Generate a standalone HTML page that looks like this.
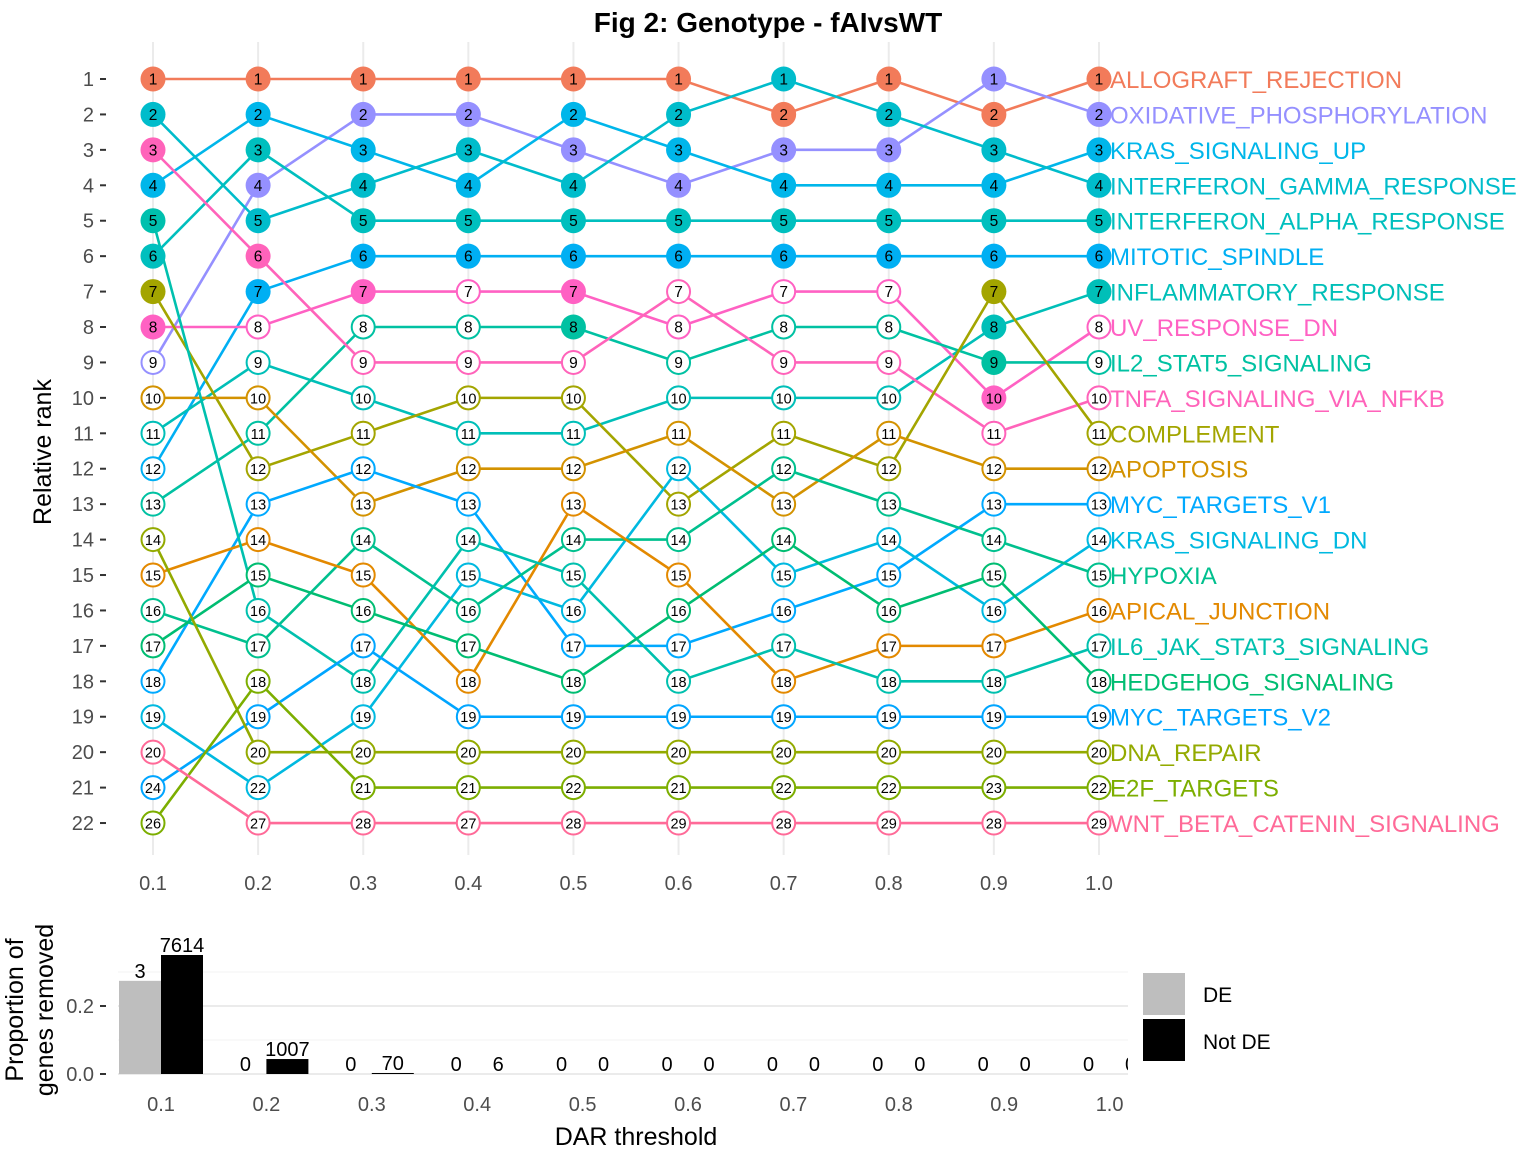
<!DOCTYPE html>
<html><head><meta charset="utf-8">
<style>
body{margin:0;background:#fff;}
svg{display:block;font-family:"Liberation Sans",Arial,sans-serif;}
</style></head>
<body>
<svg id="chart" width="1536" height="1152" viewBox="0 0 1536 1152" xmlns="http://www.w3.org/2000/svg">
<rect width="1536" height="1152" fill="#fff"/>
<text x="768" y="32" text-anchor="middle" font-size="28" font-weight="bold">Fig 2: Genotype - fAIvsWT</text>
<g id="top-grid"></g>
<g id="top-axes"></g>
<text transform="translate(51,452) rotate(-90)" text-anchor="middle" font-size="25" fill="#000">Relative rank</text>
<g id="lines"></g>
<g id="points"></g>
<g id="setlabels"></g>
<defs><clipPath id="bclip"><rect x="118" y="920" width="1010" height="160"/></clipPath></defs>
<g id="bottom-grid"></g>
<g id="bars" clip-path="url(#bclip)"></g>
<g id="bottom-axes"></g>
<text transform="translate(23,1010) rotate(-90)" text-anchor="middle" font-size="25">Proportion of</text>
<text transform="translate(53,1010) rotate(-90)" text-anchor="middle" font-size="25">genes removed</text>
<text x="636" y="1145" text-anchor="middle" font-size="25">DAR threshold</text>
<g>
<rect x="1143" y="973" width="42" height="42" fill="#bebebe"/>
<text x="1203" y="1002" font-size="21">DE</text>
<rect x="1143" y="1019" width="42" height="42" fill="#000"/>
<text x="1203" y="1049" font-size="21">Not DE</text>
</g>
</svg>
<script>
const thresholds = ["0.1","0.2","0.3","0.4","0.5","0.6","0.7","0.8","0.9","1.0"];
const setNames = ["ALLOGRAFT_REJECTION","OXIDATIVE_PHOSPHORYLATION","KRAS_SIGNALING_UP","INTERFERON_GAMMA_RESPONSE","INTERFERON_ALPHA_RESPONSE","MITOTIC_SPINDLE","INFLAMMATORY_RESPONSE","UV_RESPONSE_DN","IL2_STAT5_SIGNALING","TNFA_SIGNALING_VIA_NFKB","COMPLEMENT","APOPTOSIS","MYC_TARGETS_V1","KRAS_SIGNALING_DN","HYPOXIA","APICAL_JUNCTION","IL6_JAK_STAT3_SIGNALING","HEDGEHOG_SIGNALING","MYC_TARGETS_V2","DNA_REPAIR","E2F_TARGETS","WNT_BETA_CATENIN_SIGNALING"];
const setColors = ["#F27B5A","#9590FF","#00B6EA","#00BCCB","#00BFBE","#00AFF3","#00BFB8","#FF61C3","#00C1A2","#FF63BA","#A3A500","#D39200","#00A9FF","#00B9E0","#00C08E","#E38900","#00C0AE","#00BD72","#00A5FF","#93AA00","#7CAE00","#FF6A98"];
const rankPositions = [
 [1,1,1,1,1,1,2,1,2,1],
 [9,4,2,2,3,4,3,3,1,2],
 [4,2,3,4,2,3,4,4,4,3],
 [2,5,4,3,4,2,1,2,3,4],
 [6,3,5,5,5,5,5,5,5,5],
 [12,7,6,6,6,6,6,6,6,6],
 [11,9,10,11,11,10,10,10,8,7],
 [8,8,7,7,7,8,7,7,10,8],
 [13,11,8,8,8,9,8,8,9,9],
 [3,6,9,9,9,7,9,9,11,10],
 [7,12,11,10,10,13,11,12,7,11],
 [10,10,13,12,12,11,13,11,12,12],
 [18,13,12,13,17,17,16,15,13,13],
 [19,21,19,15,16,12,15,14,16,14],
 [16,17,14,16,14,14,12,13,14,15],
 [15,14,15,18,13,15,18,17,17,16],
 [5,16,18,14,15,18,17,18,18,17],
 [17,15,16,17,18,16,14,16,15,18],
 [21,19,17,19,19,19,19,19,19,19],
 [14,20,20,20,20,20,20,20,20,20],
 [22,18,21,21,21,21,21,21,21,21],
 [20,22,22,22,22,22,22,22,22,22]
];
const rankLabels = [
 [1,1,1,1,1,1,2,1,2,1],
 [9,4,2,2,3,4,3,3,1,2],
 [4,2,3,4,2,3,4,4,4,3],
 [2,5,4,3,4,2,1,2,3,4],
 [6,3,5,5,5,5,5,5,5,5],
 [12,7,6,6,6,6,6,6,6,6],
 [11,9,10,11,11,10,10,10,8,7],
 [8,8,7,7,7,8,7,7,10,8],
 [13,11,8,8,8,9,8,8,9,9],
 [3,6,9,9,9,7,9,9,11,10],
 [7,12,11,10,10,13,11,12,7,11],
 [10,10,13,12,12,11,13,11,12,12],
 [18,13,12,13,17,17,16,15,13,13],
 [19,22,19,15,16,12,15,14,16,14],
 [16,17,14,16,14,14,12,13,14,15],
 [15,14,15,18,13,15,18,17,17,16],
 [5,16,18,14,15,18,17,18,18,17],
 [17,15,16,17,18,16,14,16,15,18],
 [24,19,17,19,19,19,19,19,19,19],
 [14,20,20,20,20,20,20,20,20,20],
 [26,18,21,21,22,21,22,22,23,22],
 [20,27,28,27,28,29,28,29,28,29]
];
const sigCounts = [8,7,7,6,8,6,6,6,10,7];
const rankTicks = [1,2,3,4,5,6,7,8,9,10,11,12,13,14,15,16,17,18,19,20,21,22];
const deProportion = [0.274,0,0,0,0,0,0,0,0,0];
const notDeProportion = [0.35,0.044,0.003,0,0,0,0,0,0,0];
const deCounts = [3,0,0,0,0,0,0,0,0,0];
const notDeCounts = [7614,1007,70,6,0,0,0,0,0,0];
const barTicks = [0,0.2];

const NS="http://www.w3.org/2000/svg";
function mk(tag,attrs,parent,txt){const e=document.createElementNS(NS,tag);for(const k in attrs)e.setAttribute(k,attrs[k]);if(txt!==undefined)e.textContent=txt;parent.appendChild(e);return e;}
const xr=i=>153+i*105.11;
const yr=p=>79+(p-1)*35.43;
const xb=i=>161+i*105.4;
const yb=v=>1074-v*340;

const g1=document.getElementById('top-grid'),ax1=document.getElementById('top-axes');
thresholds.forEach((t,i)=>{
 const l=mk('line',{x1:xr(i),x2:xr(i),y1:42,y2:855,stroke:'#ebebeb','stroke-width':2},g1);
 
 
 const tx=mk('text',{x:xr(i),y:890,'text-anchor':'middle','font-size':20,fill:'#4d4d4d'},ax1,t);
 
 
});
rankTicks.forEach(r=>{
 const tx=mk('text',{x:94,y:yr(r)+7,'text-anchor':'end','font-size':20,fill:'#4d4d4d'},ax1,r);
 
 
 const tk=mk('line',{x1:100,x2:106,y1:yr(r),y2:yr(r),stroke:'#333','stroke-width':2},ax1);
 
 
});

const gl=document.getElementById('lines'),gp=document.getElementById('points'),gs=document.getElementById('setlabels');
rankPositions.forEach((ps,s)=>{
 const d=ps.map((p,i)=>(i?'L':'M')+xr(i)+','+yr(p)).join(' ');
 const pl=mk('path',{d:d,fill:'none',stroke:setColors[s],'stroke-width':2.6},gl);
 
 
});
rankPositions.forEach((ps,s)=>{
 ps.forEach((p,i)=>{
  const filled=p<=sigCounts[i];
  const c=mk('circle',{cx:xr(i),cy:yr(p),r:filled?12.5:11.5,fill:filled?setColors[s]:'#fff',stroke:setColors[s],'stroke-width':filled?0:2},gp);
  
  
  const lab=rankLabels[s][i];
  const t=mk('text',{x:xr(i),y:yr(p)+5.5,'text-anchor':'middle','font-size':lab>9?14.5:15.5,fill:'#000'},gp,lab);
  
  
 });
 const last=ps[ps.length-1];
 const nt=mk('text',{x:1110,y:yr(last)+9,'font-size':24,fill:setColors[s]},gs,setNames[s]);
 
 
});

const g2=document.getElementById('bottom-grid'),ax2=document.getElementById('bottom-axes'),gb=document.getElementById('bars');
[0.1,0.3].forEach(v=>{
 const l=mk('line',{x1:118,x2:1128,y1:yb(v),y2:yb(v),stroke:'#f3f3f3','stroke-width':1},g2);
 
 
});
barTicks.forEach(v=>{
 const l=mk('line',{x1:118,x2:1128,y1:yb(v),y2:yb(v),stroke:'#ebebeb','stroke-width':2},g2);
 
 
 const t=mk('text',{x:94,y:yb(v)+7,'text-anchor':'end','font-size':20,fill:'#4d4d4d'},ax2,v.toFixed(1));
 
 
 const tk=mk('line',{x1:100,x2:106,y1:yb(v),y2:yb(v),stroke:'#333','stroke-width':2},ax2);
 
 
});
thresholds.forEach((t,i)=>{
 const tx=mk('text',{x:xb(i),y:1111,'text-anchor':'middle','font-size':20,fill:'#4d4d4d'},ax2,t);
 
 
 const r1=mk('rect',{x:xb(i)-42,y:yb(deProportion[i]),width:42,height:Math.max(0,1074-yb(deProportion[i])),fill:'#bebebe'},gb);
 
 
 const r2=mk('rect',{x:xb(i),y:yb(notDeProportion[i]),width:42,height:Math.max(0,1074-yb(notDeProportion[i])),fill:'#000'},gb);
 
 
 const t1=mk('text',{x:xb(i)-21,y:yb(deProportion[i])-3,'text-anchor':'middle','font-size':20},gb,deCounts[i]);
 
 
 const t2=mk('text',{x:xb(i)+21,y:yb(notDeProportion[i])-3,'text-anchor':'middle','font-size':20},gb,notDeCounts[i]);
 
 
});
</script>
</body></html>
